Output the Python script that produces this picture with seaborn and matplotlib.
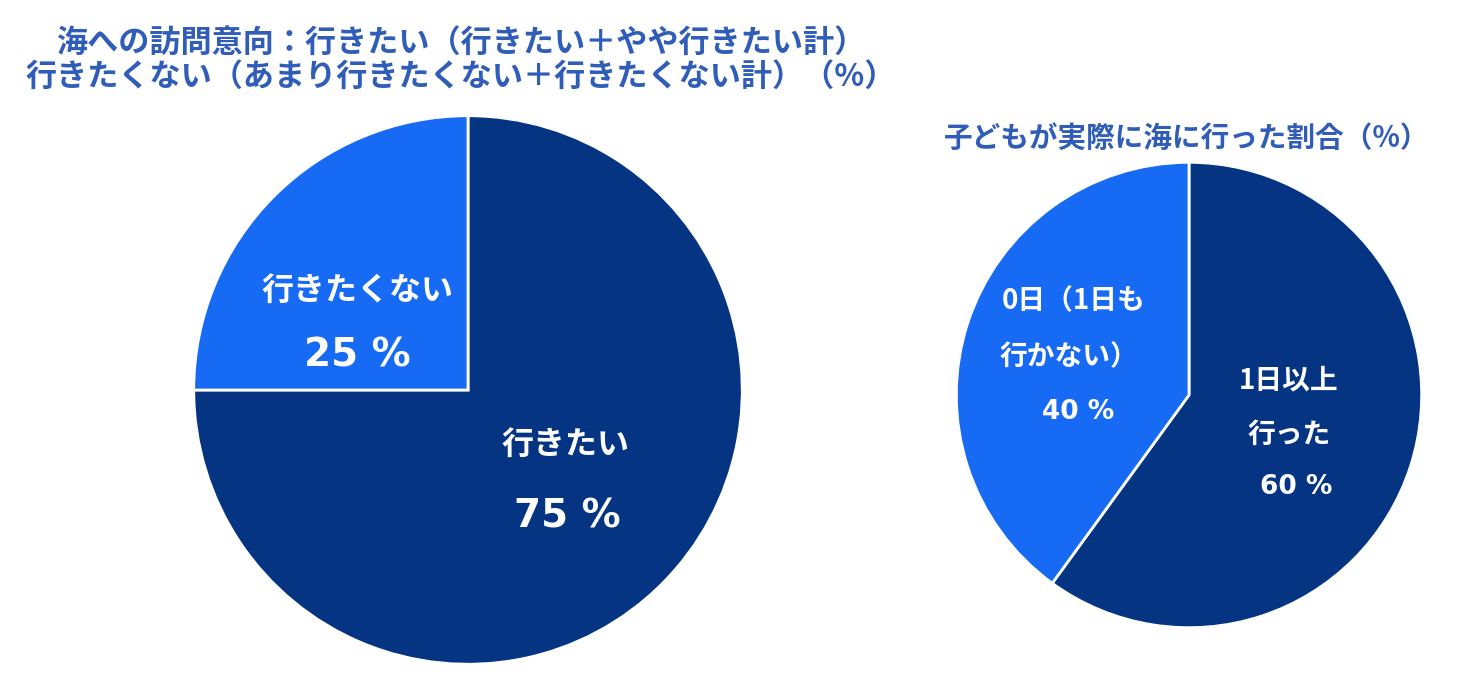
import matplotlib
matplotlib.use("Agg")
import matplotlib.pyplot as plt
import seaborn as sns

sns.set_theme(style="white")
plt.rcParams['font.family'] = ['Noto Sans CJK JP', 'DejaVu Sans']

# Data
left_labels = ["行きたい", "行きたくない"]
left_values = [75, 25]
right_labels = ["1日以上\n行った", "0日（1日も\n行かない）"]
right_values = [60, 40]
left_title = "海への訪問意向：行きたい（行きたい＋やや行きたい計）\n行きたくない（あまり行きたくない＋行きたくない計）（%）"
right_title = "子どもが実際に海に行った割合（%）"

colors = ["#053483", "#166AF4"]
title_color = "#2F5DB8"

W, H = 1462, 684
fig = plt.figure(figsize=(W / 100, H / 100), dpi=100)
fig.patch.set_facecolor("white")

def pie_axes(cx, cy, r):
    return fig.add_axes([(cx - r) / W, (H - cy - r) / H, 2 * r / W, 2 * r / H])

# Left pie
cxL, cyL, rL = 468, 390, 277
axL = pie_axes(cxL, cyL, rL)
axL.pie(left_values, colors=colors, startangle=90, counterclock=False,
        wedgeprops=dict(edgecolor="white", linewidth=2), radius=1)
axL.set_xlim(-1.01, 1.01); axL.set_ylim(-1.01, 1.01)
axL.axis("off")

def put(ax, cx, cy, r, x, y, s, size, family=None):
    kw = {}
    if family:
        kw["family"] = family
    ax.text((x - cx) / r, -(y - cy) / r, s, ha="center", va="center",
            color="white", fontsize=size, fontweight="bold", **kw)

num_font = ["DejaVu Sans"]

put(axL, cxL, cyL, rL, 356, 290, left_labels[1], 23)
put(axL, cxL, cyL, rL, 356, 355, f"{left_values[1]} %", 28, num_font)
put(axL, cxL, cyL, rL, 566, 445, left_labels[0], 23)
put(axL, cxL, cyL, rL, 568, 518, f"{left_values[0]} %", 28, num_font)

# Right pie
cxR, cyR, rR = 1189, 395, 235
axR = pie_axes(cxR, cyR, rR)
axR.pie(right_values, colors=colors, startangle=90, counterclock=False,
        wedgeprops=dict(edgecolor="white", linewidth=2), radius=1)
axR.set_xlim(-1.01, 1.01); axR.set_ylim(-1.01, 1.01)
axR.axis("off")

r0 = right_labels[1].split("\n")
r1 = right_labels[0].split("\n")
put(axR, cxR, cyR, rR, 1072, 300, r0[0], 20)
put(axR, cxR, cyR, rR, 1068, 357, r0[1], 20)
put(axR, cxR, cyR, rR, 1077, 412, f"{right_values[1]} %", 19, num_font)
put(axR, cxR, cyR, rR, 1290, 380, r1[0], 20)
put(axR, cxR, cyR, rR, 1290, 435, r1[1], 20)
put(axR, cxR, cyR, rR, 1297, 488, f"{right_values[0]} %", 19, num_font)

# Titles
fig.text(461 / W, 1 - 60 / H, left_title, ha="center", va="center",
         color=title_color, fontsize=22.4, fontweight="bold", linespacing=1.1)
fig.text(1187 / W, 1 - 138 / H, right_title, ha="center", va="center",
         color=title_color, fontsize=20.6, fontweight="bold")

fig.savefig("out.png", dpi=100, facecolor="white")
